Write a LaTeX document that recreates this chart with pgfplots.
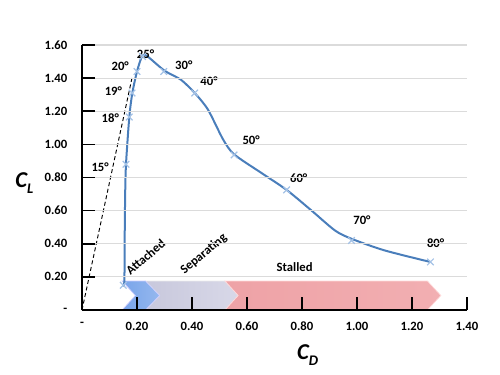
\documentclass[border=0pt]{standalone}
\usepackage{pgfplots}
\pgfplotsset{compat=1.18}
\usepackage{fontspec}
\setmainfont{Carlito}
\definecolor{curveblue}{HTML}{4A7EBB}
\definecolor{markblue}{HTML}{A4C2E6}
\definecolor{chevblueL}{HTML}{79A4EA}
\definecolor{chevblueR}{HTML}{95B8EE}
\definecolor{chevgrayL}{HTML}{C8C8DC}
\definecolor{chevgrayR}{HTML}{D8D8E8}
\definecolor{chevredL}{HTML}{EEA2A6}
\definecolor{chevredR}{HTML}{F2AFB2}
\begin{document}
\begin{tikzpicture}
\path (-61.5pt,-48.75pt) rectangle (313.5pt,232.5pt);
\begin{axis}[
  at={(0,0)}, anchor=south west,
  width=288.75pt, height=198.75pt, scale only axis,
  xmin=0, xmax=1.4, ymin=0, ymax=1.6,
  axis x line=bottom, axis y line=left,
  axis line style={-, black, line width=1.2pt},
  tick align=inside,
  major tick length=10pt,
  tick style={black, line width=1.2pt},
  xtick={0,0.2,0.4,0.6,0.8,1.0,1.2,1.4},
  xticklabels={-,0.20,0.40,0.60,0.80,1.00,1.20,1.40},
  ytick={0,0.2,0.4,0.6,0.8,1.0,1.2,1.4,1.6},
  yticklabels={-,0.20,0.40,0.60,0.80,1.00,1.20,1.40,1.60},
  ticklabel style={font=\fontsize{9.5}{11}\selectfont\bfseries},
  xticklabel style={yshift=-5.5pt},
  yticklabel style={xshift=-7.5pt},
  ymajorgrids, grid style={draw=gray!28, line width=0.8pt},
  clip=false,
  axis on top,
]
% chevrons
\addplot[draw=white!85!gray, line width=0.5pt, left color=chevgrayL, right color=chevgrayR] coordinates {(0.231,0.175) (0.52,0.175) (0.568,0.0875) (0.52,0) (0.231,0) (0.282,0.0875)} -- cycle;
\addplot[draw=white!80!blue, line width=0.5pt, left color=chevblueL, right color=chevblueR] coordinates {(0.146,0.175) (0.231,0.175) (0.282,0.0875) (0.231,0) (0.146,0) (0.194,0.0875)} -- cycle;
\addplot[draw=white!85!red, line width=0.5pt, left color=chevredL, right color=chevredR] coordinates {(0.52,0.175) (1.256,0.175) (1.305,0.0875) (1.256,0) (0.52,0) (0.568,0.0875)} -- cycle;
% dashed line
\addplot[black, line width=0.7pt, dash pattern=on 3pt off 2pt] coordinates {(0,0) (0.183,1.41)};
% curve
\addplot[curveblue, line width=1.5pt, smooth, tension=0.45] coordinates {
(0.148,0.15) (0.154,0.17) (0.155,0.40) (0.157,0.70) (0.160,0.88) (0.172,1.165) (0.183,1.31)
(0.200,1.44) (0.218,1.53) (0.235,1.535) (0.30,1.445) (0.36,1.39) (0.41,1.31)
(0.458,1.21) (0.513,1.03) (0.553,0.94) (0.65,0.83) (0.744,0.725) (0.835,0.60)
(0.92,0.48) (0.98,0.43) (1.10,0.36) (1.267,0.29)};
% markers
\addplot[only marks, mark=x, mark size=3.5pt, markblue, mark options={line width=0.9pt}] coordinates {
(0.150,0.15) (0.160,0.88) (0.172,1.165) (0.182,1.31) (0.200,1.44) (0.22,1.53)
(0.297,1.44) (0.41,1.31) (0.553,0.936) (0.744,0.725) (0.98,0.42) (1.267,0.29)};
% angle labels
\begin{scope}[every node/.style={font=\fontsize{9.5}{11}\selectfont\bfseries}]
\node at (axis cs:0.066,0.864) {15°};
\node at (axis cs:0.103,1.16) {18°};
\node at (axis cs:0.114,1.32) {19°};
\node at (axis cs:0.139,1.47) {20°};
\node at (axis cs:0.231,1.546) {25°};
\node at (axis cs:0.37,1.48) {30°};
\node at (axis cs:0.462,1.383) {40°};
\node at (axis cs:0.615,1.027) {50°};
\node at (axis cs:0.788,0.797) {60°};
\node at (axis cs:1.018,0.543) {70°};
\node at (axis cs:1.286,0.405) {80°};
\node[rotate=41, inner sep=0pt] at (axis cs:0.231,0.32) {Attached};
\node[rotate=40, inner sep=0pt] at (axis cs:0.443,0.337) {Separating};
\node at (axis cs:0.773,0.26) {Stalled};
\end{scope}
\node at (axis cs:-0.21,0.767) {\fontsize{17}{20}\selectfont\bfseries\itshape C\raisebox{-4.5pt}{\fontsize{11}{12}\selectfont L}};
\node at (axis cs:0.82,-0.272) {\fontsize{17}{20}\selectfont\bfseries\itshape C\raisebox{-4.5pt}{\fontsize{11}{12}\selectfont D}};
\end{axis}
\end{tikzpicture}
\end{document}
